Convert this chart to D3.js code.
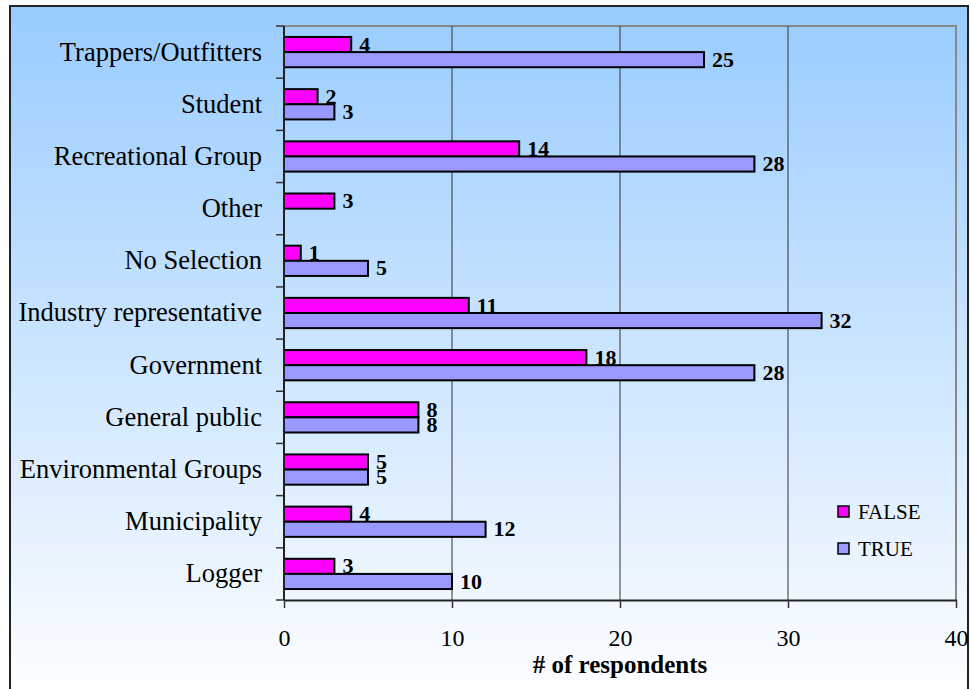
<!DOCTYPE html>
<html>
<head>
<meta charset="utf-8">
<script src="https://cdn.jsdelivr.net/npm/d3@7"></script>
<style>
  html, body { margin: 0; padding: 0; background: #ffffff; }
  svg { display: block; }
</style>
</head>
<body>
<svg id="chart" width="971" height="689"></svg>
<script>
// Respondent groups, listed top to bottom
const categories = [
  "Trappers/Outfitters", "Student", "Recreational Group", "Other", "No Selection",
  "Industry representative", "Government", "General public", "Environmental Groups",
  "Municipality", "Logger"
];
const falseValues = [4, 2, 14, 3, 1, 11, 18, 8, 5, 4, 3];
const trueValues  = [25, 3, 28, 0, 5, 32, 28, 8, 5, 12, 10];
const seriesNames = ["FALSE", "TRUE"];
const xTicks = [0, 10, 20, 30, 40];

const colors = { FALSE: "#FF00FF", TRUE: "#9999FF" };
const serif = "'Liberation Serif', 'Times New Roman', serif";

const svg = d3.select("#chart");
const plot = { left: 284, right: 956, top: 26, bottom: 600 };

// Frame background gradient
const defs = svg.append("defs");
const grad = defs.append("linearGradient").attr("id", "bg")
  .attr("x1", 0).attr("y1", 0).attr("x2", 0).attr("y2", 1);
grad.append("stop").attr("offset", "0%").attr("stop-color", "#99CCFF");
grad.append("stop").attr("offset", "100%").attr("stop-color", "#FFFFFF");

svg.append("rect")
  .attr("x", 10).attr("y", 6).attr("width", 958).attr("height", 700)
  .attr("fill", "url(#bg)").attr("stroke", "#222").attr("stroke-width", 2);

const x = d3.scaleLinear().domain([0, 40]).range([plot.left, plot.right]);
const y = d3.scaleBand().domain(categories).range([plot.top, plot.bottom]).paddingInner(0.42).paddingOuter(0.21);
const ySub = d3.scaleBand().domain(seriesNames).range([0, y.bandwidth()]);

// Plot border (top and right)
svg.append("path")
  .attr("d", `M${plot.left},${plot.top}H${plot.right}V${plot.bottom}`)
  .attr("fill", "none").attr("stroke", "#888").attr("stroke-width", 2);

// Vertical gridlines
svg.append("g").selectAll("line")
  .data(xTicks.filter(t => t > 0 && t < 40))
  .join("line")
  .attr("x1", d => x(d)).attr("x2", d => x(d))
  .attr("y1", plot.top).attr("y2", plot.bottom)
  .attr("stroke", "#333").attr("stroke-width", 1);

// Bars with value labels
const rows = categories.map((c, i) => ({ c, FALSE: falseValues[i], TRUE: trueValues[i] }));
const groups = svg.append("g").selectAll("g")
  .data(rows).join("g")
  .attr("transform", d => `translate(0,${y(d.c)})`);

groups.each(function(d) {
  const g = d3.select(this);
  seriesNames.forEach(s => {
    const v = d[s];
    if (v <= 0) return;
    g.append("rect")
      .attr("x", x(0)).attr("y", ySub(s))
      .attr("width", x(v) - x(0)).attr("height", ySub.bandwidth())
      .attr("fill", colors[s]).attr("stroke", "#000").attr("stroke-width", 2);
    g.append("text")
      .attr("x", x(v) + 8)
      .attr("y", ySub(s) + ySub.bandwidth() - 0.5)
      .attr("font-family", serif).attr("font-weight", "bold").attr("font-size", 22)
      .attr("fill", "#000")
      .text(v);
  });
});

// Y axis
const yAxis = svg.append("g")
  .attr("transform", `translate(${plot.left},0)`)
  .attr("font-family", serif)
  .call(d3.axisLeft(y).tickSize(0).tickPadding(22));
yAxis.attr("font-family", serif);
yAxis.select(".domain").remove();
yAxis.selectAll("text")
  .attr("font-family", serif).attr("font-size", 26.5).attr("fill", "#000");
// category separator ticks
const yEdges = categories.map(c => y(c) - y.step() * y.paddingInner() / 2).concat([plot.bottom]);
svg.append("g").selectAll("line").data(yEdges).join("line")
  .attr("x1", plot.left - 8).attr("x2", plot.left)
  .attr("y1", d => d).attr("y2", d => d)
  .attr("stroke", "#333").attr("stroke-width", 1.5);
svg.append("line")
  .attr("x1", plot.left).attr("x2", plot.left)
  .attr("y1", plot.top).attr("y2", plot.bottom)
  .attr("stroke", "#222").attr("stroke-width", 2);

// X axis
const xAxis = svg.append("g")
  .attr("transform", `translate(0,${plot.bottom})`)
  .call(d3.axisBottom(x).tickValues(xTicks).tickSize(8).tickPadding(21).tickSizeOuter(0));
xAxis.attr("font-family", serif);
xAxis.select(".domain").attr("stroke", "#222").attr("stroke-width", 2);
xAxis.selectAll(".tick line").attr("stroke", "#333").attr("stroke-width", 1.5);
xAxis.selectAll("text")
  .attr("font-family", serif).attr("font-size", 24).attr("fill", "#000");

// Axis title
svg.append("text")
  .attr("x", 620).attr("y", 673)
  .attr("text-anchor", "middle")
  .attr("font-family", serif).attr("font-weight", "bold").attr("font-size", 25)
  .attr("fill", "#000")
  .text("# of respondents");

// Legend
const legend = svg.append("g").attr("transform", "translate(838,506)");
seriesNames.forEach((s, i) => {
  const lg = legend.append("g").attr("transform", `translate(0,${i * 37})`);
  lg.append("rect").attr("x", 0).attr("y", 0).attr("width", 11).attr("height", 11)
    .attr("fill", colors[s]).attr("stroke", "#000").attr("stroke-width", 1.5);
  lg.append("text").attr("x", 20).attr("y", 12.5)
    .attr("font-family", serif).attr("font-size", 21).attr("fill", "#000")
    .text(s);
});
</script>
</body>
</html>
